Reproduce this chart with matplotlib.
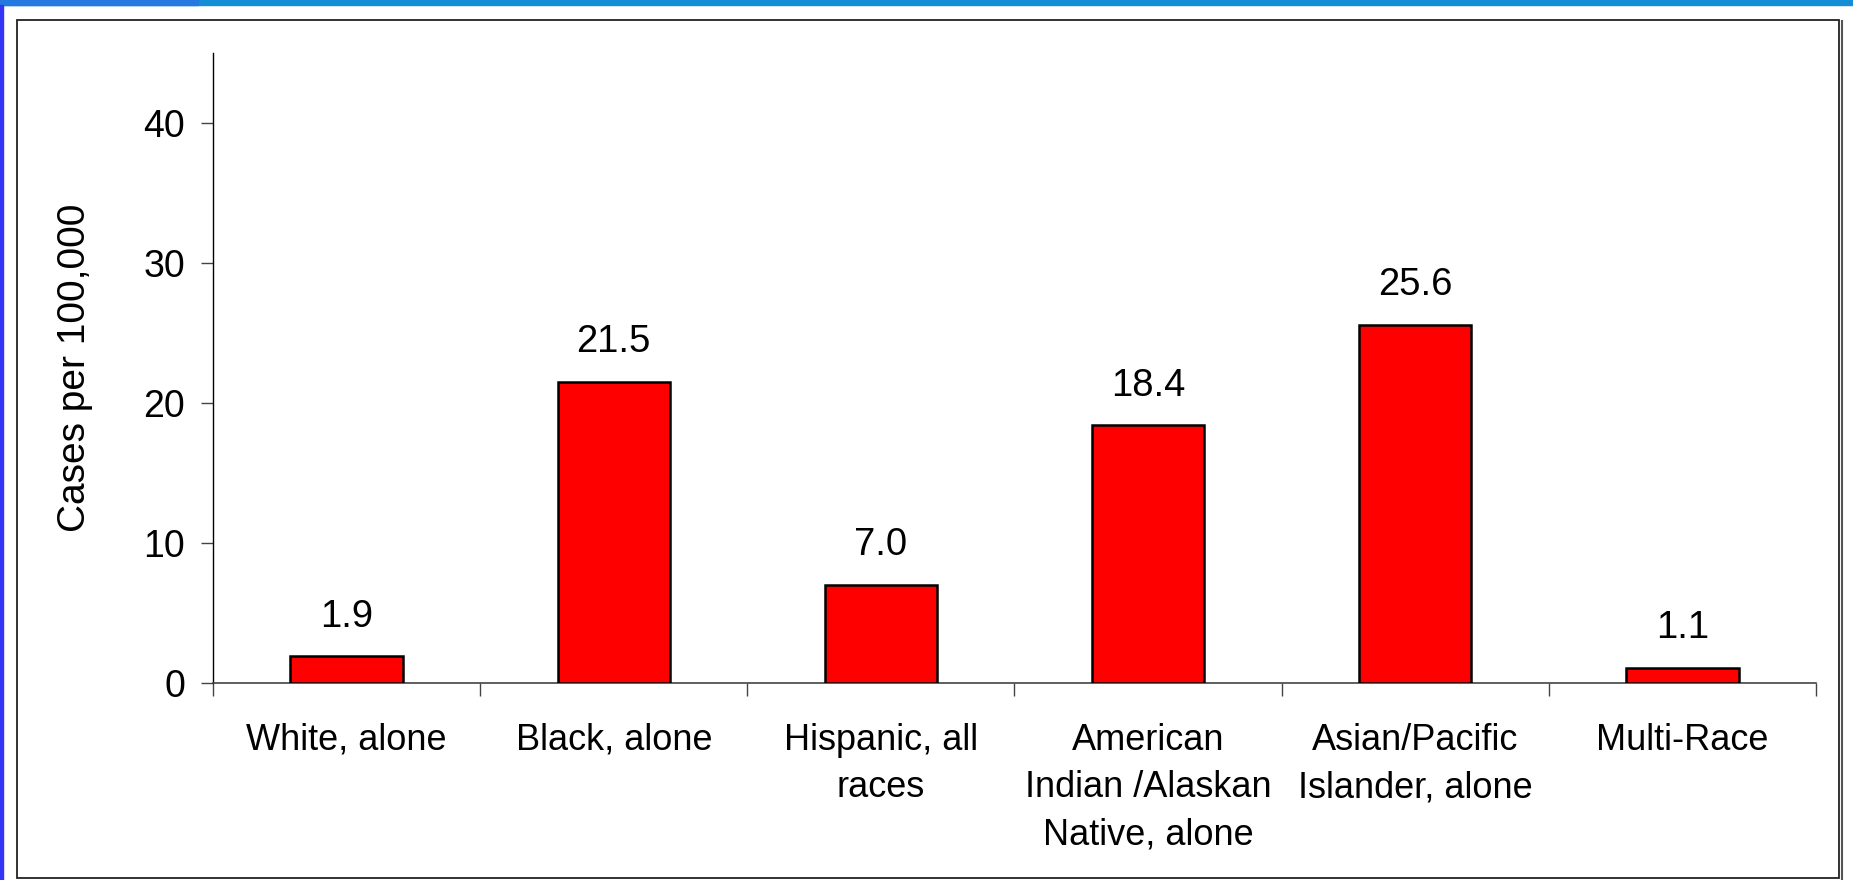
import matplotlib
matplotlib.use("Agg")
import matplotlib.pyplot as plt
from matplotlib.patches import Rectangle
from matplotlib.lines import Line2D

# Data
categories = ["White, alone", "Black, alone", "Hispanic, all\nraces",
              "American\nIndian /Alaskan\nNative, alone",
              "Asian/Pacific\nIslander, alone", "Multi-Race"]
rates = [1.9, 21.5, 7.0, 18.4, 25.6, 1.1]
y_ticks = [0, 10, 20, 30, 40]

plt.rcParams['font.family'] = ['Liberation Sans', 'DejaVu Sans']

fig = plt.figure(figsize=(18.53, 8.80), dpi=100)
W, H = 1853, 880

# Slide decoration: blue bands and outer frame
fig.patches.append(Rectangle((0, 1 - 5 / H), 1, 5 / H, transform=fig.transFigure,
                             color="#138ed6", zorder=0))
fig.patches.append(Rectangle((0, 1 - 5 / H), 198 / W, 5 / H, transform=fig.transFigure,
                             color="#2478e0", zorder=0))
fig.patches.append(Rectangle((0, 0), 2.5 / W, 1 - 5 / H, transform=fig.transFigure,
                             color="#3535f5", zorder=0))
fig.patches.append(Rectangle((17 / W, 2 / H), (1839 - 17) / W, (858 - 0) / H,
                             transform=fig.transFigure, fill=False,
                             edgecolor="#222222", linewidth=1.3, zorder=1))
fig.lines.append(Line2D([1841.5 / W, 1841.5 / W], [1.5 / H, 1 - 21 / H],
                        transform=fig.transFigure, color="#555555", linewidth=1.5))

ax = fig.add_axes([213 / W, 1 - 683 / H, (1816 - 213) / W, (683 - 53) / H])
x = list(range(len(categories)))
ax.bar(x, rates, width=0.42, color="#ff0000", edgecolor="black", linewidth=1.8, zorder=3)

for xi, v in zip(x, rates):
    ax.annotate(f"{v:.1f}", (xi, v), xytext=(0, 15.5), textcoords="offset points",
                ha="center", va="bottom", fontsize=27.5)

ax.set_xlim(-0.5, len(categories) - 0.5)
ax.set_ylim(0, 45)
ax.set_yticks(y_ticks)
ax.set_yticklabels([str(t) for t in y_ticks], fontsize=27)
ax.tick_params(axis="y", direction="out", length=9, width=1, pad=11, color="#444444")

ax.set_xticks(x)
ax.set_xticklabels(categories, fontsize=26, linespacing=1.47, va="top")
ax.tick_params(axis="x", which="major", length=0, pad=28.5)
ax.set_xticks([i - 0.5 for i in range(len(categories) + 1)], minor=True)
ax.tick_params(axis="x", which="minor", direction="out", length=9, width=1, color="#444444")

for s in ["top", "right"]:
    ax.spines[s].set_visible(False)
ax.spines["left"].set_color("black")
ax.spines["bottom"].set_color("#444444")
ax.spines["left"].set_linewidth(1)
ax.spines["bottom"].set_linewidth(1.2)

ax.set_ylabel("Cases per 100,000", fontsize=28)
# right edge of the rotated label at x=93px in figure
ax.yaxis.set_label_coords((93 - 213) / (1816 - 213), 0.5)

fig.savefig("out.png", dpi=100)
